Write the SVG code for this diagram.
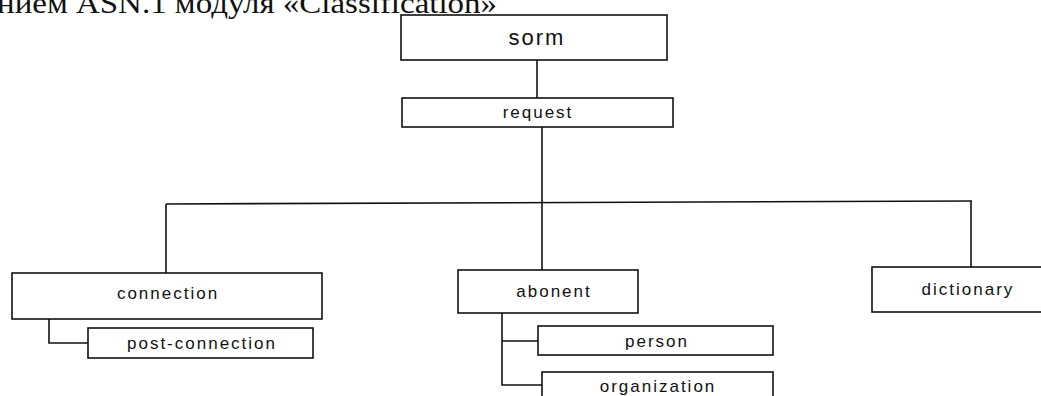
<svg xmlns="http://www.w3.org/2000/svg" width="1041" height="396" viewBox="0 0 1041 396">
<style>
.box{fill:#fff;stroke:#111;stroke-width:1.6}
.lbl{font-family:"Liberation Sans",Arial,sans-serif;font-size:17px;letter-spacing:2px;fill:#111;text-anchor:middle}
.big{font-size:22px;letter-spacing:2px}
.con{fill:none;stroke:#111;stroke-width:1.6}
.head{font-family:"Liberation Serif",serif;font-size:30px;fill:#111}
</style>
<rect width="1041" height="396" fill="#fff"/>
<text class="head" x="-3" y="13" textLength="500" lengthAdjust="spacingAndGlyphs">нием ASN.1 модуля «Classification»</text>
<g id="connectors">
<path class="con" d="M537 60V98"/>
<path class="con" d="M542 127V270"/>
<path class="con" d="M166 204L972 201"/>
<path class="con" d="M166 204V273"/>
<path class="con" d="M971 201V267"/>
<path class="con" d="M49 319V343H88"/>
<path class="con" d="M502 313V385H542"/>
<path class="con" d="M502 341H538"/>
</g>
<g id="sorm"><rect class="box" x="401" y="15" width="266" height="45"/><text class="lbl big" x="537" y="45">sorm</text></g>
<g id="request"><rect class="box" x="402" y="98" width="271" height="29"/><text class="lbl" x="538" y="118">request</text></g>
<g id="connection"><rect class="box" x="12" y="273" width="310" height="46"/><text class="lbl" x="168" y="299">connection</text></g>
<g id="post-connection"><rect class="box" x="88" y="328" width="225" height="30"/><text class="lbl" x="202" y="349">post-connection</text></g>
<g id="abonent"><rect class="box" x="458" y="270" width="180" height="43"/><text class="lbl" x="554" y="297">abonent</text></g>
<g id="person"><rect class="box" x="538" y="326" width="235" height="29"/><text class="lbl" x="657" y="347">person</text></g>
<g id="organization"><rect class="box" x="542" y="372" width="231" height="40"/><text class="lbl" x="658" y="392">organization</text></g>
<g id="dictionary"><rect class="box" x="872" y="267" width="190" height="45"/><text class="lbl" x="968" y="295">dictionary</text></g>
</svg>
